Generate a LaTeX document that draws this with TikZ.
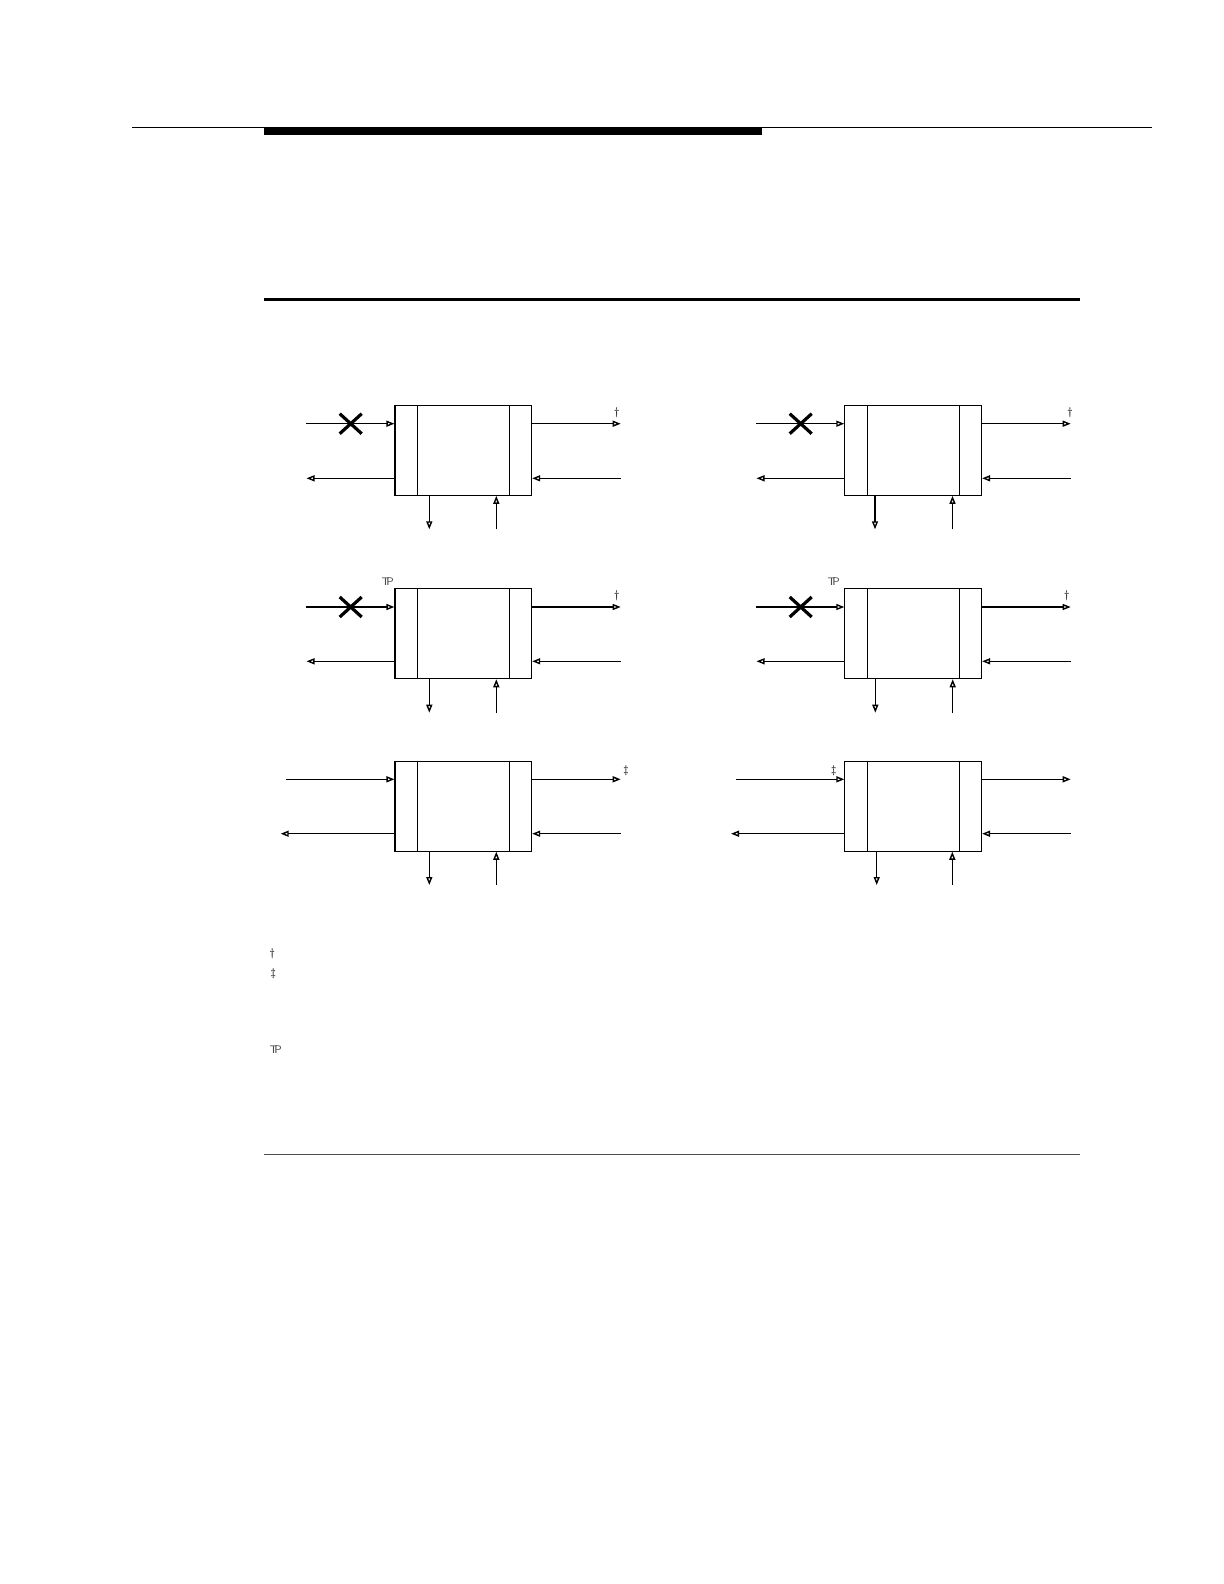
\documentclass[tikz,border=0pt]{standalone}
\usepackage{amsmath,amssymb}
\usetikzlibrary{arrows.meta}

\tikzset{
  blk/.style={draw,line width=0.55pt,minimum width=68.35pt,minimum height=45pt,inner sep=0pt},
  sig/.style={line width=0.55pt,-{Triangle[open,length=4pt,width=3pt,line width=0.7pt]}},
  cut/.style={line width=1.6pt},
  note/.style={font=\fontsize{5.5}{6}\selectfont,inner sep=0pt},
}
\newcommand{\tpmark}{\textsf{T\kern-0.28em P}}

\begin{document}
\begin{tikzpicture}[x=0.5pt,y=-0.5pt]
\useasboundingbox (0,0) rectangle (1224,1584);
%page rules at the top and bottom of the figure
\draw[line width=0.5pt] (132.3,127.3) -- (1152.3,127.3);
\fill (263.6,127.3) rectangle (761.5,135.3);
\draw[line width=1.5pt] (263.6,299) -- (1079.6,299);
\draw[line width=0.4pt,black!70] (263.6,1154.3) -- (1079.6,1154.3);

% the six blocks, left column then right column
\node[blk] (b1) at (463.3,450.3) {};
\node[blk] (b2) at (913.2,450.3) {};
\node[blk] (b3) at (463.3,633.7) {};
\node[blk] (b4) at (913.2,633.7) {};
\node[blk] (b5) at (463.3,806.2) {};
\node[blk] (b6) at (913.2,806.2) {};
% side panels of each block
\foreach \b in {b1,b2,b3,b4,b5,b6}{
  \draw[line width=0.55pt] ([xshift=11.65pt]\b.north west) -- ([xshift=11.65pt]\b.south west);
  \draw[line width=0.55pt] ([xshift=-11.5pt]\b.north east) -- ([xshift=-11.5pt]\b.south east);
}

% block 1
\coordinate (i1) at (306,423.7);
\coordinate (o1) at (620.7,423.7);
\coordinate (l1) at (306.5,478.3);
\coordinate (r1) at (620.7,478.3);
\coordinate (d1) at (429.3,529.3);
\coordinate (u1) at (496.3,529.3);
\draw[sig] (i1) -- (i1 -| b1.west);
\draw[sig] (o1 -| b1.east) -- (o1);
\draw[sig] (l1 -| b1.west) -- (l1);
\draw[sig] (r1) -- (r1 -| b1.east);
\draw[sig] (d1 |- b1.south) -- (d1);
\draw[sig] (u1) -- (u1 |- b1.south);
\node[note] (t1) at (616.7,412.7) {\dag};
\draw[cut] (339.7,413.7) -- (361.7,433.7);
\draw[cut] (339.7,433.7) -- (361.7,413.7);

% block 2
\coordinate (i2) at (756,423.7);
\coordinate (o2) at (1070.7,423.7);
\coordinate (l2) at (756.5,478.3);
\coordinate (r2) at (1070.7,478.3);
\coordinate (d2) at (875,529.3);
\coordinate (u2) at (952.5,529.3);
\draw[sig] (i2) -- (i2 -| b2.west);
\draw[sig] (o2 -| b2.east) -- (o2);
\draw[sig] (l2 -| b2.west) -- (l2);
\draw[sig] (r2) -- (r2 -| b2.east);
\draw[sig] (d2 |- b2.south) -- (d2);
\draw[sig] (u2) -- (u2 |- b2.south);
\node[note] (t2) at (1070,412.7) {\dag};
\draw[cut] (789.7,413.7) -- (811.7,433.7);
\draw[cut] (789.7,433.7) -- (811.7,413.7);

% block 3
\coordinate (i3) at (306,607);
\coordinate (o3) at (620.7,607);
\coordinate (l3) at (306.5,661.3);
\coordinate (r3) at (620.7,661.3);
\coordinate (d3) at (429.3,712.7);
\coordinate (u3) at (496.3,712.7);
\draw[sig] (i3) -- (i3 -| b3.west);
\draw[sig] (o3 -| b3.east) -- (o3);
\draw[sig] (l3 -| b3.west) -- (l3);
\draw[sig] (r3) -- (r3 -| b3.east);
\draw[sig] (d3 |- b3.south) -- (d3);
\draw[sig] (u3) -- (u3 |- b3.south);
\node[note] (t3) at (616.7,596) {\dag};
\node[note,black!70] (p3) at (387.7,582) {\tpmark};
\draw[cut] (339.7,597) -- (361.7,617);
\draw[cut] (339.7,617) -- (361.7,597);

% block 4
\coordinate (i4) at (756,607);
\coordinate (o4) at (1070.7,607);
\coordinate (l4) at (756.5,661.3);
\coordinate (r4) at (1070.7,661.3);
\coordinate (d4) at (875.3,712.7);
\coordinate (u4) at (952.7,712.7);
\draw[sig] (i4) -- (i4 -| b4.west);
\draw[sig] (o4 -| b4.east) -- (o4);
\draw[sig] (l4 -| b4.west) -- (l4);
\draw[sig] (r4) -- (r4 -| b4.east);
\draw[sig] (d4 |- b4.south) -- (d4);
\draw[sig] (u4) -- (u4 |- b4.south);
\node[note] (t4) at (1066.7,596) {\dag};
\node[note,black!70] (p4) at (833.7,582) {\tpmark};
\draw[cut] (789.7,597) -- (811.7,617);
\draw[cut] (789.7,617) -- (811.7,597);

% block 5
\coordinate (i5) at (286,779.3);
\coordinate (o5) at (620.7,779.3);
\coordinate (l5) at (280.7,833.7);
\coordinate (r5) at (620.7,833.7);
\coordinate (d5) at (429.3,885);
\coordinate (u5) at (496.3,885);
\draw[sig] (i5) -- (i5 -| b5.west);
\draw[sig] (o5 -| b5.east) -- (o5);
\draw[sig] (l5 -| b5.west) -- (l5);
\draw[sig] (r5) -- (r5 -| b5.east);
\draw[sig] (d5 |- b5.south) -- (d5);
\draw[sig] (u5) -- (u5 |- b5.south);
\node[note] (t5) at (626,771) {\ddag};

% block 6
\coordinate (i6) at (736,779.3);
\coordinate (o6) at (1070.7,779.3);
\coordinate (l6) at (731,833.7);
\coordinate (r6) at (1070.7,833.7);
\coordinate (d6) at (876.7,885);
\coordinate (u6) at (952.3,885);
\draw[sig] (i6) -- (i6 -| b6.west);
\draw[sig] (o6 -| b6.east) -- (o6);
\draw[sig] (l6 -| b6.west) -- (l6);
\draw[sig] (r6) -- (r6 -| b6.east);
\draw[sig] (d6 |- b6.south) -- (d6);
\draw[sig] (u6) -- (u6 |- b6.south);
\node[note] (t6) at (833.7,771) {\ddag};

% footnote marks
\node[note] (f1) at (272.3,954) {\dag};
\node[note] (f2) at (273.3,973.3) {\ddag};
\node[note,black!70] (f3) at (275.7,1050) {\tpmark};
\end{tikzpicture}
\end{document}
